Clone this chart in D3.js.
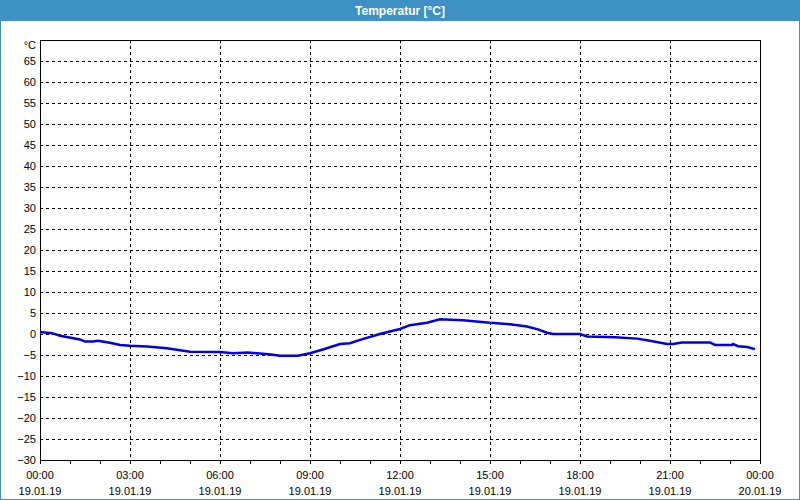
<!DOCTYPE html>
<html>
<head>
<meta charset="utf-8">
<script src="https://d3js.org/d3.v7.min.js"></script>
<style>
  body { margin: 0; background: #fff; }
  text { font-family: "Liberation Sans", Arial, sans-serif; }
</style>
</head>
<body>
<div id="chart"></div>
<script>
// DATA (hours since 19.01.19 00:00, temperature in °C)
const hours = [0, 0.4, 0.67, 1.33, 1.5, 1.77, 1.93, 2.33, 2.67, 3.0, 3.57, 4.23, 5.0, 6.0,
  6.43, 6.93, 7.7, 8.0, 8.6, 9.0, 9.43, 10.0, 10.33, 10.67, 11.33, 12.0, 12.33, 12.9,
  13.33, 14.1, 15.0, 15.67, 16.23, 16.6, 16.9, 17.1, 18.0, 18.23, 19.17, 19.9, 20.33, 20.9,
  21.1, 21.4, 22.33, 22.5, 23.07, 23.1, 23.27, 23.57, 23.83]
const temps = [0.5, 0.2, -0.4, -1.3, -1.8, -1.8, -1.6, -2.1, -2.6, -2.8, -3.0, -3.4, -4.2, -4.3,
  -4.6, -4.4, -4.9, -5.2, -5.2, -4.6, -3.7, -2.4, -2.2, -1.4, 0.0, 1.2, 2.1, 2.7,
  3.5, 3.3, 2.7, 2.3, 1.8, 1.1, 0.3, 0.0, 0.0, -0.6, -0.8, -1.1, -1.6, -2.4,
  -2.4, -2.0, -2.0, -2.6, -2.6, -2.4, -2.9, -3.1, -3.6]
const yTicks = [-30, -25, -20, -15, -10, -5, 0, 5, 10, 15, 20, 25, 30, 35, 40, 45, 50, 55, 60, 65]
const xMajor = [0, 3, 6, 9, 12, 15, 18, 21, 24]
const timeLabels = ["00:00", "03:00", "06:00", "09:00", "12:00", "15:00", "18:00", "21:00", "00:00"]
const dateLabels = ["19.01.19", "19.01.19", "19.01.19", "19.01.19", "19.01.19", "19.01.19", "19.01.19", "19.01.19", "20.01.19"]
const title = "Temperatur [°C]"
const unit = "°C"

const W = 800, H = 500
const MARGIN = { LEFT: 40, RIGHT: 40, TOP: 40, BOTTOM: 40 }
const WIDTH = W - MARGIN.LEFT - MARGIN.RIGHT
const HEIGHT = H - MARGIN.TOP - MARGIN.BOTTOM
const BLUE = "#3d91c4"

const svg = d3.select("#chart").append("svg")
  .attr("width", W)
  .attr("height", H)

// window frame + title bar
svg.append("rect")
  .attr("x", 0.5).attr("y", 0.5)
  .attr("width", W - 1).attr("height", H - 1)
  .attr("fill", "#fff").attr("stroke", BLUE)
svg.append("rect")
  .attr("x", 0).attr("y", 0)
  .attr("width", W).attr("height", 21)
  .attr("fill", BLUE)
svg.append("text")
  .attr("x", W / 2).attr("y", 15)
  .attr("text-anchor", "middle")
  .attr("fill", "#fff")
  .attr("font-size", 12)
  .attr("font-weight", "bold")
  .text(title)

const g = svg.append("g")
  .attr("transform", `translate(${MARGIN.LEFT}, ${MARGIN.TOP})`)

// SCALES
const x = d3.scaleLinear().domain([0, 24]).range([0, WIDTH])
const y = d3.scaleLinear().domain([-30, 70]).range([HEIGHT, 0])

// GRID
g.selectAll(".hgrid")
  .data(yTicks.filter(d => d > -30))
  .enter().append("line")
  .attr("x1", 0).attr("x2", WIDTH)
  .attr("y1", d => Math.round(y(d)) + 0.5).attr("y2", d => Math.round(y(d)) + 0.5)
  .attr("stroke", "#000").attr("stroke-dasharray", "3,3")

g.selectAll(".vgrid")
  .data(xMajor.filter(d => d > 0 && d < 24))
  .enter().append("line")
  .attr("x1", d => Math.round(x(d)) + 0.5).attr("x2", d => Math.round(x(d)) + 0.5)
  .attr("y1", 0).attr("y2", HEIGHT)
  .attr("stroke", "#000").attr("stroke-dasharray", "3,3")

// AXES
const yAxisCall = d3.axisLeft(y)
  .tickValues(yTicks)
  .tickSize(0)
  .tickPadding(4)
const yAxisGroup = g.append("g").call(yAxisCall)
yAxisGroup.select(".domain").remove()
yAxisGroup.selectAll("text")
  .attr("font-size", 11)
  .attr("font-family", "Liberation Sans, Arial, sans-serif")
  .attr("fill", "#000")

g.append("text")
  .attr("x", -4).attr("y", 9)
  .attr("text-anchor", "end")
  .attr("font-size", 11)
  .text(unit)

const xAxisCall = d3.axisBottom(x)
  .tickValues(d3.range(0, 25))
  .tickSize(4)
  .tickFormat("")
const xAxisGroup = g.append("g")
  .attr("transform", `translate(0, ${HEIGHT})`)
  .call(xAxisCall)
xAxisGroup.select(".domain").remove()

const labels = g.append("g").selectAll("g")
  .data(xMajor)
  .enter().append("g")
  .attr("transform", d => `translate(${x(d)}, ${HEIGHT})`)
labels.append("text")
  .attr("y", 19).attr("text-anchor", "middle").attr("font-size", 11)
  .text((d, i) => timeLabels[i])
labels.append("text")
  .attr("y", 35).attr("text-anchor", "middle").attr("font-size", 11)
  .text((d, i) => dateLabels[i])

// plot frame
g.append("rect")
  .attr("x", 0.5).attr("y", 0.5)
  .attr("width", WIDTH).attr("height", HEIGHT)
  .attr("fill", "none").attr("stroke", "#000")

// LINE
const line = d3.line()
  .x((d, i) => x(hours[i]))
  .y(d => y(d))
g.append("path")
  .datum(temps)
  .attr("fill", "none")
  .attr("stroke", "#0000ee")
  .attr("stroke-width", 2.5)
  .attr("d", line)
</script>
</body>
</html>
